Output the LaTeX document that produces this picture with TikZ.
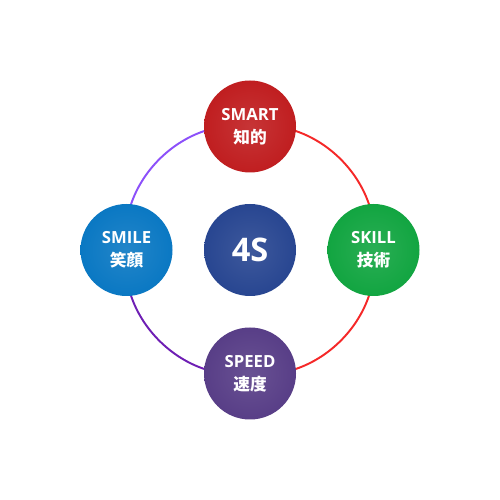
\documentclass[tikz,border=0pt]{standalone}
\usepackage{fontspec}
\setmainfont{Open Sans}
\newfontfamily\cjk{Noto Sans CJK JP}
\usepackage{tikz}
\usetikzlibrary{backgrounds}
\definecolor{smartred}{RGB}{192, 30, 32}
\definecolor{smileblue}{RGB}{10, 120, 195}
\definecolor{skillgreen}{RGB}{18, 165, 65}
\definecolor{speedpurple}{RGB}{88, 62, 135}
\definecolor{coreblue}{RGB}{40, 70, 145}
\definecolor{ringviolet}{RGB}{140, 80, 250}
\definecolor{ringpurple}{RGB}{110, 30, 180}
\definecolor{ringred}{RGB}{245, 40, 40}

\begin{document}
\begin{tikzpicture}[
      ball/.style={circle, minimum size=1.84cm, inner sep=0pt,
                   text=white, align=center,
                   font=\bfseries\fontsize{9.5}{13.3}\selectfont,
                   inner color=#1!90!white, outer color=#1},
      core/.style={ball=#1, font=\bfseries\fontsize{18.5}{22}\selectfont},
      ring/.style={draw=#1, line width=1.1pt},
    ]
    \def\rr{2.47}
    \useasboundingbox (0,0) rectangle (10,10);
    %% centre
    \node[core=coreblue] (core) at (5,5) {4S};
    %% four balls round the centre
    \node[ball=smartred]    (smart) at (5,5+\rr) {SMART\\{\cjk\bfseries 知的}};
    \node[ball=skillgreen]  (skill) at (5+\rr,5) {SKILL\\{\cjk\bfseries 技術}};
    \node[ball=speedpurple] (speed) at (5,5-\rr) {SPEED\\{\cjk\bfseries 速度}};
    \node[ball=smileblue]   (smile) at (5-\rr,5) {SMILE\\{\cjk\bfseries 笑顔}};
    %% ring behind the balls
    \begin{scope}[on background layer]
      \fill[white] (0,0) rectangle (10,10);
      \draw[ring=ringviolet] (smile.center) to[bend left=53] (smart.center);
      \draw[ring=ringred]    (smart.center) to[bend left=53] (skill.center);
      \draw[ring=ringred]    (skill.center) to[bend left=53] (speed.center);
      \draw[ring=ringpurple] (speed.center) to[bend left=53] (smile.center);
    \end{scope}
    \end{tikzpicture}
\end{document}
